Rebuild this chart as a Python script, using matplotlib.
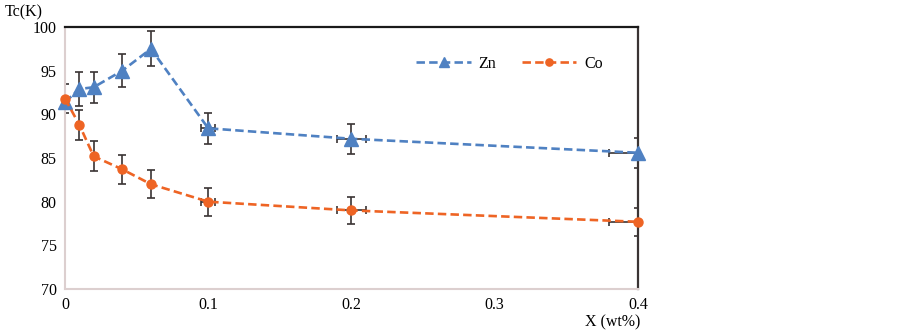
import matplotlib
matplotlib.use('Agg')
import matplotlib.pyplot as plt

plt.rcParams['font.family'] = ['Liberation Serif', 'DejaVu Serif']

# 数据
x_vals = [0, 0.01, 0.02, 0.04, 0.06, 0.1, 0.2, 0.4]
zn_tc = [91.4, 92.9, 93.1, 95.0, 97.5, 88.4, 87.2, 85.6]
zn_err = [0.0, 1.9, 1.8, 1.9, 2.0, 1.8, 1.75, 1.7]
co_tc = [91.8, 88.8, 85.2, 83.7, 82.0, 80.0, 79.0, 77.7]
co_err = [1.7, 1.7, 1.7, 1.7, 1.6, 1.6, 1.5, 1.6]
x_err = [0, 0, 0, 0, 0, 0.005, 0.01, 0.02]
x_ticks = [0, 0.1, 0.2, 0.3, 0.4]
x_tick_labels = ['0', '0.1', '0.2', '0.3', '0.4']
y_ticks = [70, 75, 80, 85, 90, 95, 100]

blue = '#4f81c2'
orange = '#ee6424'
err_color = '#3a3434'

fig = plt.figure(figsize=(9.03, 3.33), dpi=100)
ax = fig.add_axes([0.072, 0.132, 0.6345, 0.787])

for y, e, c, m, ms, lab in [(zn_tc, zn_err, blue, '^', 9.5, 'Zn'),
                            (co_tc, co_err, orange, 'o', 6.5, 'Co')]:
    eb = ax.errorbar(x_vals, y, yerr=e, xerr=x_err, fmt='none', ecolor=err_color,
                     elinewidth=1.2, capsize=3, capthick=1.2, zorder=2)
    for art in eb.get_children():
        art.set_clip_on(True)
        art.set_clip_path(ax.patch)
    ax.plot(x_vals, y, color=c, linestyle=(0, (3.2, 1.6)), linewidth=1.9,
            marker=m, markersize=ms, markeredgecolor=c, markerfacecolor=c,
            label=lab, zorder=3, clip_on=False)

ax.set_xlim(0, 0.4)
ax.set_ylim(70, 100)
ax.set_xticks(x_ticks)
ax.set_xticklabels(x_tick_labels)
ax.set_yticks(y_ticks)
ax.tick_params(length=0, labelsize=11.5, pad=6)

ax.spines['top'].set_color('#1a1a1a')
ax.spines['top'].set_linewidth(1.6)
ax.spines['right'].set_color('#3a3434')
ax.spines['right'].set_linewidth(1.6)
ax.spines['left'].set_color('#dccfcf')
ax.spines['left'].set_linewidth(1.5)
ax.spines['bottom'].set_color('#dccfcf')
ax.spines['bottom'].set_linewidth(1.5)

leg = ax.legend(loc='center', bbox_to_anchor=(0.776, 0.86), ncol=2, frameon=False,
                fontsize=11.5, handlelength=3.4, columnspacing=1.6, handletextpad=0.5,
                markerscale=0.8)

fig.text(5 / 903, 1 - 12 / 333, 'Tc(K)', fontsize=11.5, va='center', ha='left')
fig.text(640 / 903, 1 - 322 / 333, 'X (wt%)', fontsize=11.5, va='center', ha='right')

plt.savefig('out.png', dpi=100)
plt.close()
